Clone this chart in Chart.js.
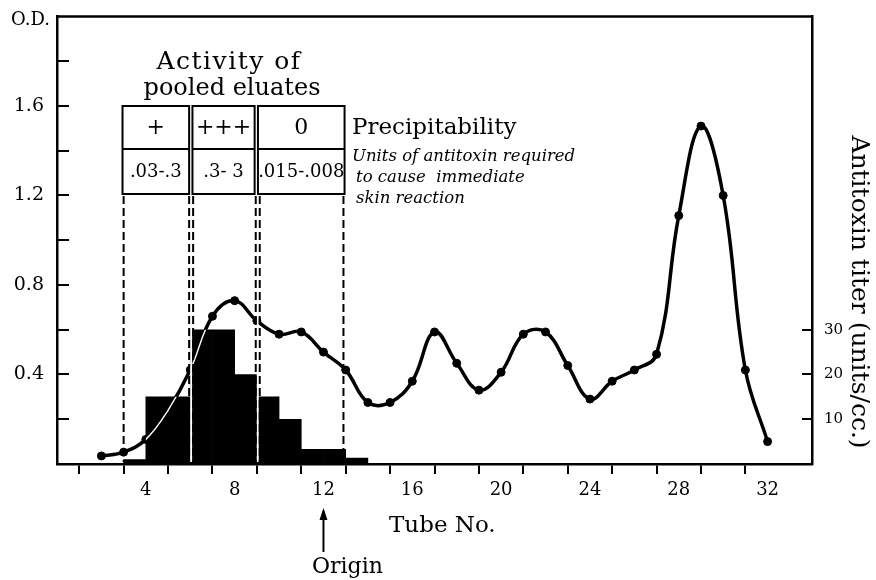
<!doctype html>
<html>
<head>
    <title>Tube No. chart</title>
    <script src="https://cdn.jsdelivr.net/npm/chart.js@4.4.1/dist/chart.umd.min.js"></script>
    <style>
        html, body { margin: 0; padding: 0; background: #fff; }
        #wrap { width: 876px; height: 580px; }
    </style>
</head>
<body>
    <div id="wrap">
        <canvas id="canvas" width="876" height="580"></canvas>
    </div>
    <script>
        // optical density, one point per tube
        var tubes = [2, 3, 4, 5, 6, 7, 8, 9, 10, 11, 12, 13, 14, 15, 16, 17, 18, 19, 20, 21, 22, 23, 24, 25, 26, 27, 28, 29, 30, 31, 32];
        var odValues = [0.036, 0.053, 0.11, 0.24, 0.42, 0.66, 0.73, 0.64, 0.58, 0.59, 0.50, 0.42, 0.275, 0.275, 0.37, 0.59, 0.45, 0.33, 0.41, 0.58, 0.59, 0.44, 0.29, 0.37, 0.42, 0.49, 1.11, 1.51, 1.20, 0.42, 0.10];

        // antitoxin titer, one bar per tube interval (center of interval)
        var titerTubes = [3.5, 4.5, 5.5, 6.5, 7.5, 8.5, 9.5, 10.5, 11.5, 12.5, 13.5];
        var titerValues = [1, 15, 15, 30, 30, 20, 15, 10, 3.3, 3.3, 1.3];

        var odTickLabels = [0.4, 0.8, 1.2, 1.6];
        var titerTickLabels = [10, 20, 30];
        var tubeTickLabels = [4, 8, 12, 16, 20, 24, 28, 32];

        // pooled eluates table
        var poolRanges = [[2.95, 5.95], [6.1, 8.9], [9.05, 12.95]];
        var precipitability = ['+', '+++', '0'];
        var skinUnits = ['.03-.3', '.3- 3', '.015-.008'];
        var dashedAt = [3.0, 5.95, 6.13, 8.95, 9.13, 12.9];

        var serif = "'DejaVu Serif', 'Liberation Serif', serif";

        var points = tubes.map(function (t, i) { return { x: t, y: odValues[i] }; });
        var bars = titerTubes.map(function (t, i) { return { x: t, y: titerValues[i] }; });

        var extras = {
            id: 'extras',
            afterDatasetsDraw: function (chart) {
                var c = chart.ctx;
                var xs = chart.scales.x, ys = chart.scales.y, y2 = chart.scales.y2;
                var a = chart.chartArea;
                c.save();

                // the curve shows as a thin white line where it runs through the bars
                var barMeta = chart.getDatasetMeta(1);
                var lineMeta = chart.getDatasetMeta(0);
                c.save();
                c.beginPath();
                barMeta.data.forEach(function (b) {
                    c.rect(b.x - b.width / 2, b.y, b.width, b.base - b.y);
                });
                c.clip();
                c.strokeStyle = '#fff';
                c.lineWidth = 1.4;
                c.beginPath();
                lineMeta.dataset.path(c);
                c.stroke();
                c.restore();

                c.strokeStyle = '#000';
                c.fillStyle = '#000';

                // top frame line
                c.lineWidth = 2.5;
                c.beginPath();
                c.moveTo(a.left - 1, a.top);
                c.lineTo(a.right + 1, a.top);
                c.stroke();

                // inward ticks, left axis
                c.lineWidth = 2;
                for (var v = 0.2; v < 1.95; v += 0.2) {
                    var py = Math.round(ys.getPixelForValue(v));
                    c.beginPath(); c.moveTo(a.left, py); c.lineTo(a.left + 12, py); c.stroke();
                }
                // inward ticks, right axis
                titerTickLabels.forEach(function (t) {
                    var py = Math.round(y2.getPixelForValue(t));
                    c.beginPath(); c.moveTo(a.right, py); c.lineTo(a.right - 10, py); c.stroke();
                });

                c.textBaseline = 'middle';
                c.textAlign = 'right';
                c.font = '18px ' + serif;
                c.fillText('O.D.', 50, 20);

                // table boxes
                var boxTop = 106, boxMid = 149, boxBot = 194;
                c.lineWidth = 2;
                c.textAlign = 'center';
                poolRanges.forEach(function (r, i) {
                    var l = xs.getPixelForValue(r[0]), rr = xs.getPixelForValue(r[1]);
                    c.strokeRect(l, boxTop, rr - l, boxBot - boxTop);
                    c.beginPath(); c.moveTo(l, boxMid); c.lineTo(rr, boxMid); c.stroke();
                    c.font = '22px ' + serif;
                    c.fillText(precipitability[i], (l + rr) / 2, (boxTop + boxMid) / 2 + 1);
                    c.font = '18px ' + serif;
                    c.fillText(skinUnits[i], (l + rr) / 2, (boxMid + boxBot) / 2 + 1);
                });

                // white gaps where the pool edges cut the bars
                c.strokeStyle = '#fff';
                c.lineWidth = 2;
                [6.04, 9.04].forEach(function (t) {
                    var px = xs.getPixelForValue(t);
                    c.beginPath(); c.moveTo(px, boxBot + 1); c.lineTo(px, a.bottom - 2); c.stroke();
                });

                // dashed pool edges
                c.strokeStyle = '#000';
                c.lineWidth = 2;
                c.setLineDash([8, 4]);
                dashedAt.forEach(function (t) {
                    var px = xs.getPixelForValue(t);
                    c.beginPath(); c.moveTo(px, boxBot + 2); c.lineTo(px, a.bottom - 2); c.stroke();
                });
                c.setLineDash([]);

                // heading over table
                c.font = '25px ' + serif;
                c.letterSpacing = '1.5px';
                c.fillText('Activity of', 229, 62);
                c.letterSpacing = '0px';
                c.font = '24px ' + serif;
                c.fillText('pooled eluates', 232, 89);

                c.textAlign = 'left';
                c.font = '23px ' + serif;
                c.fillText('Precipitability', 352, 128);
                c.font = 'italic 16.5px ' + serif;
                c.fillText('Units of antitoxin required', 352, 157);
                c.fillText('to cause  immediate', 356, 178);
                c.fillText('skin reaction', 356, 199);

                // x title and origin marker
                c.font = '23px ' + serif;
                c.fillText('Tube No.', 389, 526);
                var ox = xs.getPixelForValue(12);
                c.lineWidth = 2;
                c.beginPath(); c.moveTo(ox, 552); c.lineTo(ox, 511); c.stroke();
                c.beginPath(); c.moveTo(ox - 4, 520); c.lineTo(ox, 508); c.lineTo(ox + 4, 520); c.closePath(); c.fill();
                c.font = '22px ' + serif;
                c.fillText('Origin', 312, 567);

                // right axis title
                c.save();
                c.translate(858, 292);
                c.rotate(Math.PI / 2);
                c.textAlign = 'center';
                c.font = '25px ' + serif;
                c.fillText('Antitoxin titer (units/cc.)', 0, 0);
                c.restore();

                c.restore();
            }
        };

        var ctx = document.getElementById('canvas').getContext('2d');
        var chart = new Chart(ctx, {
            data: {
                datasets: [{
                    type: 'line',
                    label: 'O.D.',
                    data: points,
                    yAxisID: 'y',
                    borderColor: '#000',
                    borderWidth: 3.5,
                    tension: 0.4,
                    pointRadius: 4,
                    pointBackgroundColor: tubes.map(function (t) { return t === 5 ? '#fff' : '#000'; }),
                    pointBorderColor: '#000',
                    pointBorderWidth: 1,
                    order: 1
                }, {
                    type: 'bar',
                    label: 'Antitoxin titer',
                    data: bars,
                    yAxisID: 'y2',
                    backgroundColor: '#000',
                    borderWidth: 0,
                    barPercentage: 1,
                    categoryPercentage: 1,
                    grouped: false,
                    order: 0
                }]
            },
            options: {
                responsive: false,
                animation: false,
                layout: { padding: { top: 15 } },
                plugins: {
                    legend: { display: false },
                    tooltip: { enabled: false }
                },
                scales: {
                    x: {
                        type: 'linear',
                        min: 0,
                        max: 34,
                        offset: false,
                        afterFit: function (s) { s.height = 116; },
                        border: { display: true, color: '#000', width: 2.5 },
                        grid: {
                            drawOnChartArea: false,
                            drawTicks: true,
                            tickLength: 10,
                            lineWidth: 2,
                            color: function (c) {
                                var v = c.tick ? c.tick.value : 0;
                                return (v === 0 || v === 34) ? 'rgba(0,0,0,0)' : '#000';
                            }
                        },
                        ticks: {
                            stepSize: 2,
                            maxRotation: 0,
                            autoSkip: false,
                            padding: 6,
                            color: '#000',
                            font: { family: serif, size: 18 },
                            callback: function (v) { return tubeTickLabels.indexOf(v) >= 0 ? String(v) : ''; }
                        }
                    },
                    y: {
                        type: 'linear',
                        position: 'left',
                        min: 0,
                        max: 2,
                        afterFit: function (s) { s.width = 57; },
                        border: { display: true, color: '#000', width: 2.5 },
                        grid: { display: false },
                        ticks: {
                            stepSize: 0.2,
                            autoSkip: false,
                            padding: 5,
                            color: '#000',
                            font: { family: serif, size: 19 },
                            callback: function (v) {
                                var r = Math.round(v * 10) / 10;
                                return odTickLabels.indexOf(r) >= 0 ? r.toFixed(1) : '';
                            }
                        }
                    },
                    y2: {
                        type: 'linear',
                        position: 'right',
                        min: 0,
                        max: 100,
                        afterFit: function (s) { s.width = 64; },
                        border: { display: true, color: '#000', width: 2.5 },
                        grid: { display: false },
                        ticks: {
                            stepSize: 10,
                            autoSkip: false,
                            padding: 4,
                            color: '#000',
                            font: { family: serif, size: 15 },
                            callback: function (v) { return titerTickLabels.indexOf(v) >= 0 ? String(v) : ''; }
                        }
                    }
                }
            },
            plugins: [extras]
        });
    </script>
</body>
</html>
